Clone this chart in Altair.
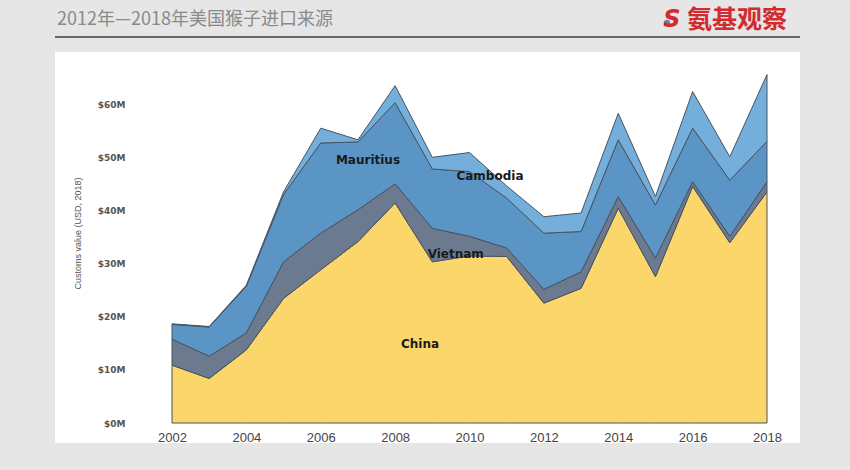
import altair as alt
import pandas as pd

years = list(range(2002, 2019))
china = [10.9, 8.4, 13.8, 23.5, 28.9, 34.2, 41.5, 30.4, 31.5, 31.4, 22.6, 25.4, 40.5, 27.6, 44.6, 34.0, 43.6]
vietnam = [4.9, 4.2, 3.2, 6.9, 6.9, 6.0, 3.6, 6.3, 3.7, 1.6, 2.6, 3.1, 2.2, 3.5, 0.9, 1.2, 1.9]
mauritius = [2.8, 5.5, 8.8, 12.7, 17.0, 12.8, 15.3, 11.2, 12.2, 9.4, 10.6, 7.6, 10.7, 10.0, 10.1, 10.6, 7.6]
cambodia = [0.1, 0.1, 0.2, 0.5, 2.8, 0.4, 3.2, 2.2, 3.6, 2.3, 3.1, 3.5, 5.0, 1.6, 6.9, 4.4, 12.6]

series_names = ["China", "Vietnam", "Mauritius", "Cambodia"]
series_colors = ["#FAD66B", "#6B7A8F", "#5A95C5", "#74AFDC"]

label_names = ["Mauritius", "Cambodia", "Vietnam", "China"]
label_x = [2007.27, 2010.55, 2009.63, 2008.67]
label_y = [49.6, 46.6, 31.9, 14.9]

title_text = "2012年—2018年美国猴子进口来源"
logo_text = "氨基观察"

rows = []
for i, (name, vals) in enumerate(zip(series_names, [china, vietnam, mauritius, cambodia])):
    for y, v in zip(years, vals):
        rows.append({"year": y, "value": v, "country": name, "ord": i})
df = pd.DataFrame(rows)

W, H = 595, 350
xscale = alt.Scale(domain=[2002, 2018], nice=False, zero=False)
yscale = alt.Scale(domain=[0, 66], nice=False)

dummy = pd.DataFrame({"a": [0]})

panel = alt.Chart(dummy).mark_rect(color="white").encode(
    x=alt.value(-117), x2=alt.value(628), y=alt.value(-21), y2=alt.value(370)
)

areas = alt.Chart(df).mark_area(stroke="#4a5260", strokeWidth=1, opacity=1, interpolate="linear").encode(
    x=alt.X("year:Q", scale=xscale,
            axis=alt.Axis(values=list(range(2002, 2019, 2)), format="d", title=None,
                          domain=False, ticks=False, grid=False, labelPadding=8, labelFlush=False,
                          labelFont="Liberation Sans", labelFontSize=13, labelColor="#444",
                          zindex=1)),
    y=alt.Y("value:Q", stack="zero", scale=yscale,
            axis=alt.Axis(values=[0, 10, 20, 30, 40, 50, 60], labelExpr="'$' + datum.value + 'M'",
                          title="Customs value (USD, 2018)", titleFont="Liberation Sans",
                          titleFontSize=9, titleFontWeight="normal", titleColor="#555",
                          titleX=-95, titleY=160, titleAngle=270, titleAlign="center",
                          titleBaseline="middle", labelFlush=False,
                          domain=False, ticks=False, grid=False, labelPadding=47,
                          labelFont="DejaVu Sans", labelFontWeight="bold", labelFontSize=9,
                          labelColor="#555", zindex=1)),
    color=alt.Color("country:N", scale=alt.Scale(domain=series_names, range=series_colors), legend=None),
    order=alt.Order("ord:Q"),
)

labels_df = pd.DataFrame({"name": label_names, "x": label_x, "y": label_y})
labels = alt.Chart(labels_df).mark_text(font="DejaVu Sans", fontWeight="bold", fontSize=12,
                                        color="#1a1a1a", align="center", baseline="middle").encode(
    x=alt.X("x:Q", scale=xscale), y=alt.Y("y:Q", scale=yscale), text="name:N"
)

title = alt.Chart(dummy).mark_text(text=title_text, font="Noto Sans CJK SC", fontSize=18,
                                   color="#8a8a8a", align="left", baseline="middle").encode(
    x=alt.value(-115), y=alt.value(-53)
)
rule = alt.Chart(dummy).mark_rule(color="#666666", strokeWidth=2).encode(
    x=alt.value(-117), x2=alt.value(628), y=alt.value(-36)
)
logo = alt.Chart(dummy).mark_text(text=logo_text, font="Noto Sans CJK SC", fontWeight="bold",
                                  fontSize=25, color="#D42A2E", align="left", baseline="middle").encode(
    x=alt.value(515), y=alt.value(-53)
)
logo_icon = alt.Chart(dummy).mark_text(text="S", font="DejaVu Sans", fontWeight="bold", fontStyle="italic",
                                       fontSize=24, color="#D42A2E", align="center", baseline="middle").encode(
    x=alt.value(500), y=alt.value(-53)
)
logo_dot = alt.Chart(dummy).mark_point(shape="circle", filled=True, color="#2B5BA8", size=40).encode(
    x=alt.value(495), y=alt.value(-50)
)

chart = alt.layer(panel, areas, labels, title, rule, logo_dot, logo_icon, logo).properties(
    width=W, height=H,
    autosize=alt.AutoSizeParams(type="none"),
    padding={"left": 172, "top": 73, "right": 83, "bottom": 47},
    background="#E6E6E6",
).configure_view(strokeWidth=0)

chart.save("out.html", embed_options={"renderer": "svg", "actions": False})
